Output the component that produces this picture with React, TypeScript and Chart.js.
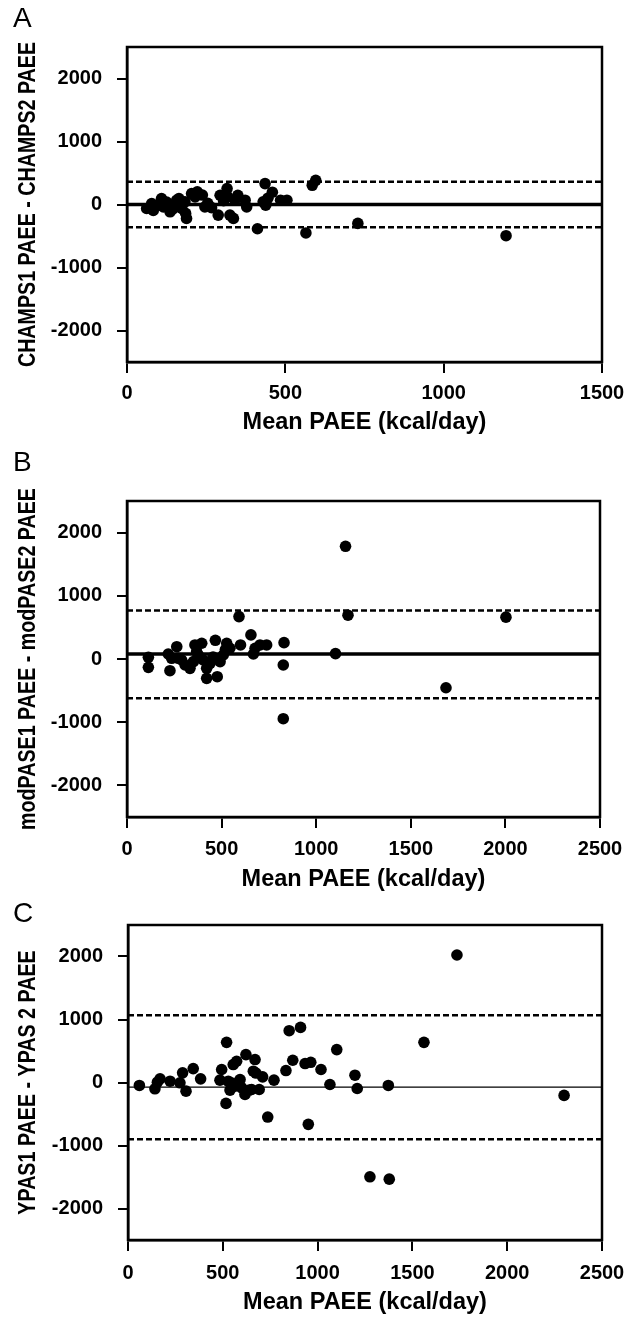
import React, { useEffect, useRef } from "react";
import { Chart, registerables } from "chart.js";

Chart.register(...registerables);

const FONT = "'Liberation Sans', Arial, Helvetica, sans-serif";

// ---------- Data ----------
const yTickValues = [-2000, -1000, 0, 1000, 2000];
const xTitle = "Mean PAEE (kcal/day)";

// Panel A: CHAMPS
const champsMean = [62, 78, 83, 99, 109, 115, 125, 136, 145, 157, 164, 173, 183, 188, 185, 204, 215, 222, 238, 246, 255, 267, 288, 294, 305, 316, 318, 325, 336, 341, 350, 373, 378, 412, 436, 430, 438, 445, 459, 485, 505, 565, 585, 596, 729, 1197];
const champsDiff = [-63, 16, -95, -10, 95, -37, 40, -116, -70, 68, 95, -63, 42, -221, -140, 174, 121, 200, 150, -37, 20, -50, -168, 147, 60, 253, 121, -168, -221, 68, 147, 68, -37, -385, 332, 42, -10, 100, 195, 68, 68, -452, 305, 384, -300, -495];
const champsLimits = [0, 360, -362]; // bias, upper, lower

// Panel B: modPASE
const pasMean = [113, 113, 218, 227, 236, 263, 271, 289, 307, 333, 351, 359, 377, 395, 403, 421, 421, 439, 467, 477, 492, 509, 527, 544, 592, 600, 655, 668, 677, 703, 738, 830, 826, 826, 1102, 1155, 1168, 1686, 2003, 368, 455, 520];
const pasDiff = [27, -132, 79, -185, 11, 195, 11, -16, -95, -148, -42, 222, 63, 249, -16, -148, -306, -69, 296, -280, -42, 63, 249, 170, 671, 222, 381, 79, 170, 222, 222, 259, -95, -945, 85, 1783, 693, -455, 662, 116, 30, 150];
const pasLimits = [79, 767, -620];

// Panel C: YPAS
const ypasMean = [60, 142, 155, 169, 222, 274, 288, 306, 344, 383, 485, 494, 517, 520, 529, 538, 555, 573, 564, 591, 600, 617, 622, 652, 661, 670, 692, 710, 737, 770, 833, 850, 869, 910, 934, 951, 964, 1018, 1065, 1101, 1197, 1209, 1276, 1373, 1378, 1561, 1735, 2300, 548, 640, 675];
const ypasDiff = [-47, -100, 5, 58, 21, -5, 153, -137, 221, 58, 37, 206, -332, 637, 21, -121, 285, 337, -58, 47, -84, -190, 443, -111, 179, 364, -111, 90, -548, 37, 190, 822, 353, 875, 301, -664, 321, 206, -32, 522, 116, -95, -1497, -47, -1534, 637, 2024, -205, -10, -120, 150];
const ypasLimits = [-73, 1068, -901];

const boxPlugin = {
  id: "frameBox",
  afterDraw(chart: any) {
    const { ctx, chartArea } = chart;
    const { left, top, right, bottom } = chartArea;
    ctx.save();
    ctx.strokeStyle = "#000";
    ctx.lineWidth = 2.5;
    ctx.strokeRect(left, top, right - left, bottom - top);
    ctx.restore();
  },
};

// Condensed (narrow) vertical axis title, like Arial Narrow Bold
const yTitlePlugin = {
  id: "yTitleNarrow",
  afterDraw(chart: any, _args: any, opts: any) {
    if (!opts || !opts.text) return;
    const { ctx, chartArea } = chart;
    const cy = (chartArea.top + chartArea.bottom) / 2;
    ctx.save();
    ctx.font = `bold ${opts.size}px ${FONT}`;
    ctx.fillStyle = "#000";
    ctx.textAlign = "center";
    ctx.textBaseline = "middle";
    const w = ctx.measureText(opts.text).width;
    ctx.translate(opts.x, cy);
    ctx.rotate(-Math.PI / 2);
    ctx.fillText(opts.text, 0, 0, w * opts.condense);
    ctx.restore();
  },
};

type PanelProps = {
  top: number;
  height: number;
  area: { left: number; right: number; top: number; bottom: number };
  labelY: number;
  titleY: number;
  xMax: number;
  yTitle: string;
  xs: number[];
  ys: number[];
  limits: number[];
  biasWidth: number;
};

function Panel(p: PanelProps) {
  const ref = useRef<HTMLCanvasElement>(null);
  useEffect(() => {
    const W = 624;
    const tlY = 10;
    const tlX = 11;
    const [bias, upper, lower] = p.limits;
    const chart = new Chart(ref.current as HTMLCanvasElement, {
      type: "scatter",
      data: {
        datasets: [
          {
            data: p.xs.map((x, i) => ({ x, y: p.ys[i] })),
            backgroundColor: "#000",
            borderColor: "#000",
            borderWidth: 0,
            pointRadius: 5.8,
            order: 0,
          },
          {
            data: [{ x: 0, y: bias }, { x: p.xMax, y: bias }],
            showLine: true,
            borderColor: "#000",
            borderWidth: p.biasWidth,
            pointRadius: 0,
            order: 1,
          },
          {
            data: [{ x: 0, y: upper }, { x: p.xMax, y: upper }],
            showLine: true,
            borderColor: "#000",
            borderWidth: 2.5,
            borderDash: [6, 3],
            pointRadius: 0,
            order: 1,
          },
          {
            data: [{ x: 0, y: lower }, { x: p.xMax, y: lower }],
            showLine: true,
            borderColor: "#000",
            borderWidth: 2.5,
            borderDash: [6, 3],
            pointRadius: 0,
            order: 1,
          },
        ] as any,
      },
      options: {
        responsive: false,
        animation: false,
        devicePixelRatio: 1,
        layout: { padding: { left: 0, top: p.area.top, right: W - p.area.right, bottom: 0 } },
        plugins: {
          legend: { display: false },
          tooltip: { enabled: false },
          yTitleNarrow: { text: p.yTitle, size: 24, x: 28, condense: 0.82 },
        },
        scales: {
          x: {
            type: "linear",
            position: "bottom",
            min: 0,
            max: p.xMax,
            ticks: {
              stepSize: 500,
              color: "#000",
              font: { family: FONT, size: 20, weight: "bold" },
              padding: p.labelY - p.area.bottom - tlX - 12,
              maxRotation: 0,
              autoSkip: false,
              callback: (v: any) => String(v),
            },
            grid: { drawOnChartArea: false, drawTicks: true, tickLength: tlX, color: "#000", lineWidth: 2 },
            border: { display: true, color: "#000", width: 2.5 },
            title: {
              display: true,
              text: xTitle,
              color: "#000",
              font: { family: FONT, size: 23.5, weight: "bold" },
              padding: { top: 0, bottom: p.height - p.titleY - 14.1 },
            },
            afterFit: (s: any) => {
              s.height = p.height - p.area.bottom;
              s.paddingLeft = 0;
              s.paddingRight = 0;
            },
          },
          y: {
            type: "linear",
            position: "left",
            min: -2500,
            max: 2500,
            afterBuildTicks: (s: any) => {
              s.ticks = yTickValues.map((v) => ({ value: v }));
            },
            ticks: {
              color: "#000",
              font: { family: FONT, size: 20, weight: "bold" },
              padding: 15,
              callback: (v: any) => String(v),
            },
            grid: { drawOnChartArea: false, drawTicks: true, tickLength: tlY, color: "#000", lineWidth: 2 },
            border: { display: true, color: "#000", width: 2.5 },
            title: { display: false },
            afterFit: (s: any) => {
              s.width = p.area.left;
              s.paddingTop = 0;
              s.paddingBottom = 0;
            },
          },
        },
      } as any,
      plugins: [boxPlugin, yTitlePlugin],
    });
    return () => chart.destroy();
  }, []);
  return (
    <canvas
      ref={ref}
      width={624}
      height={p.height}
      style={{ position: "absolute", left: 0, top: p.top, width: 624, height: p.height }}
    />
  );
}

function Letter({ text, top }: { text: string; top: number }) {
  return (
    <div
      style={{
        position: "absolute",
        left: 13,
        top,
        fontFamily: FONT,
        fontSize: 28,
        lineHeight: "28px",
        color: "#000",
      }}
    >
      {text}
    </div>
  );
}

export default function App() {
  return (
    <div style={{ position: "absolute", left: 0, top: 0, width: 624, height: 1322, background: "#fff" }}>
      <Panel
        top={0}
        height={440}
        area={{ left: 127, right: 602, top: 47, bottom: 362 }}
        labelY={393}
        titleY={423}
        xMax={1500}
        yTitle="CHAMPS1 PAEE - CHAMPS2 PAEE"
        xs={champsMean}
        ys={champsDiff}
        limits={champsLimits}
        biasWidth={3.5}
      />
      <Panel
        top={440}
        height={455}
        area={{ left: 127, right: 600, top: 61, bottom: 377 }}
        labelY={409}
        titleY={440}
        xMax={2500}
        yTitle="modPASE1 PAEE - modPASE2 PAEE"
        xs={pasMean}
        ys={pasDiff}
        limits={pasLimits}
        biasWidth={3.5}
      />
      <Panel
        top={895}
        height={427}
        area={{ left: 128, right: 602, top: 30, bottom: 345 }}
        labelY={378}
        titleY={408}
        xMax={2500}
        yTitle="YPAS1 PAEE - YPAS 2 PAEE"
        xs={ypasMean}
        ys={ypasDiff}
        limits={ypasLimits}
        biasWidth={1.2}
      />
      <Letter text="A" top={4} />
      <Letter text="B" top={448} />
      <Letter text="C" top={899} />
    </div>
  );
}
